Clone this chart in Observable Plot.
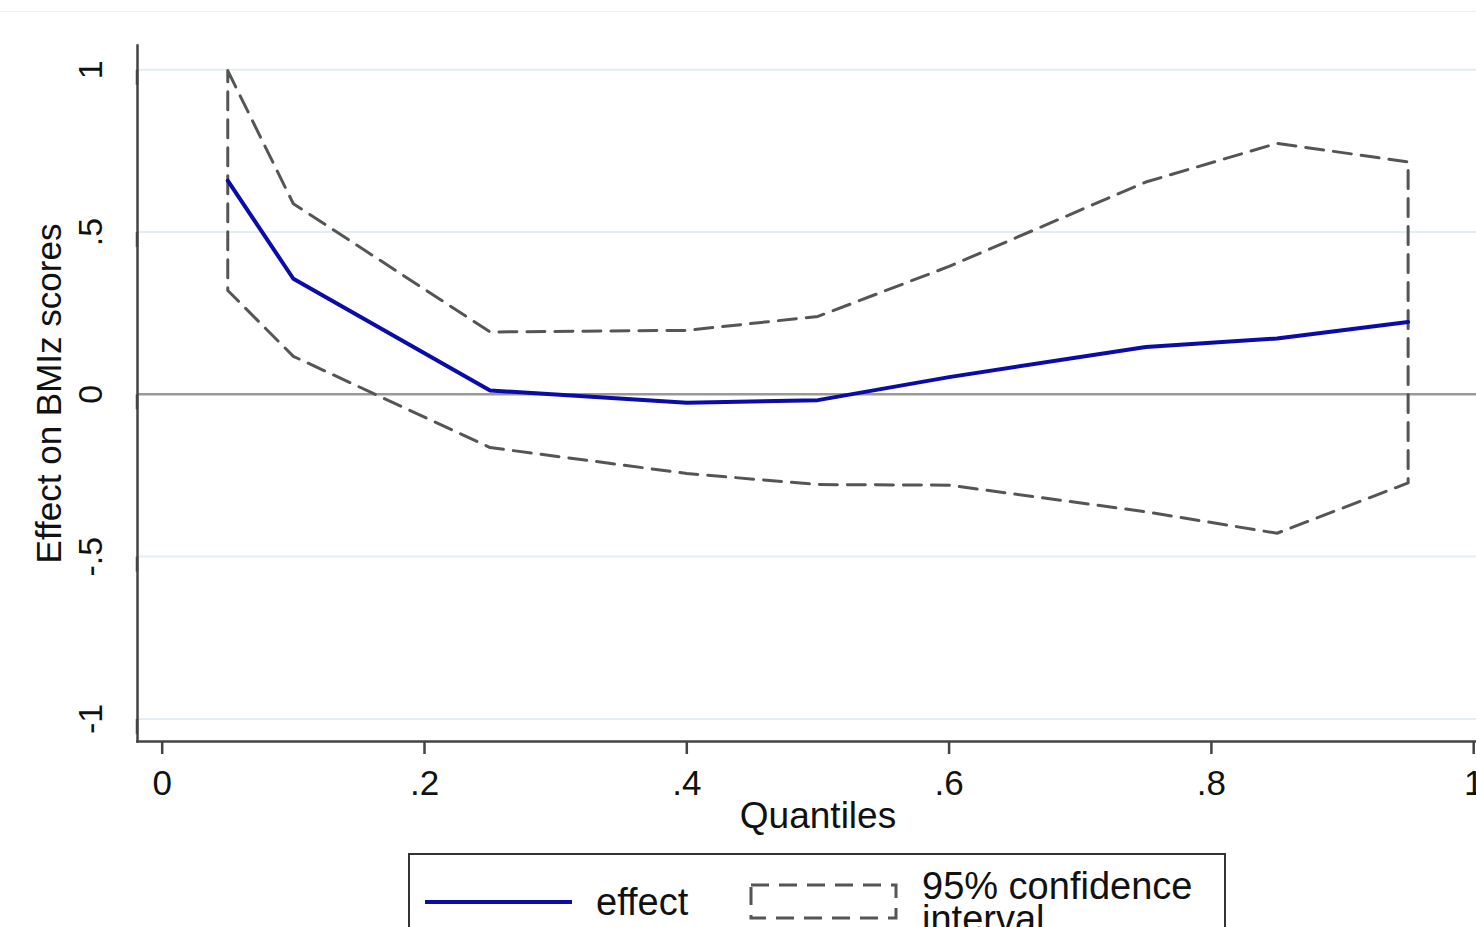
<!DOCTYPE html>
<html>
<head>
<meta charset="utf-8">
<script src="https://cdn.jsdelivr.net/npm/d3@7"></script>
<script src="https://cdn.jsdelivr.net/npm/@observablehq/plot@0.6"></script>
<style>
  html, body { margin: 0; padding: 0; background: #fff; overflow: hidden; }
  #wrap { position: relative; width: 1476px; height: 927px; font-family: "Liberation Sans", Arial, sans-serif; }
  #topline { position: absolute; left: 0; top: 11px; width: 1476px; border-top: 1px solid #eef0f2; }
  #chart { position: absolute; left: 0; top: 0; }
  #legend { position: absolute; left: 408px; top: 853px; width: 814px; height: 100px; border: 2px solid #333; background: #fff; overflow: hidden; }
  .lg-item { position: absolute; font-size: 38px; color: #111; line-height: 33px; white-space: nowrap; }
</style>
</head>
<body>
<div id="wrap">
  <div id="topline"></div>
  <div id="chart"></div>
  <div id="legend">
    <svg style="position:absolute;left:15px;top:37px" width="150" height="20"><line x1="0" y1="10" x2="147" y2="10" stroke="#0b0ba8" stroke-width="4"/></svg>
    <div class="lg-item" style="left:186px;top:31px">effect</div>
    <svg style="position:absolute;left:338px;top:27px" width="154" height="40"><rect x="3" y="3" width="145" height="33" fill="none" stroke="#555" stroke-width="3" stroke-dasharray="18,10"/></svg>
    <div class="lg-item" style="left:512px;top:15px">95% confidence<br>interval</div>
  </div>
</div>
<script>
const quantiles = [0.05, 0.10, 0.25, 0.40, 0.50, 0.60, 0.75, 0.85, 0.95];
const effect    = [0.658, 0.356, 0.012, -0.026, -0.018, 0.053, 0.146, 0.172, 0.223];
const upper     = [0.997, 0.587, 0.192, 0.197, 0.240, 0.394, 0.654, 0.773, 0.716];
const lower     = [0.320, 0.117, -0.164, -0.244, -0.278, -0.280, -0.362, -0.428, -0.273];
const xTicks = [0, 0.2, 0.4, 0.6, 0.8, 1];
const yTicks = [-1, -0.5, 0, 0.5, 1];
const gridTicks = [-1, -0.5, 0.5, 1];

const fmt = d => d === 0 ? "0" : String(d).replace("0.", ".");

const effectData = quantiles.map((q, i) => ({q, v: effect[i]}));
// closed outline of the confidence band: upper left->right, lower right->left, back to start
const ciData = [
  ...quantiles.map((q, i) => ({q, v: upper[i]})),
  ...quantiles.map((q, i) => ({q, v: lower[i]})).reverse(),
  {q: quantiles[0], v: upper[0]}
];

const chart = Plot.plot({
  width: 1476,
  height: 840,
  marginLeft: 137,
  marginRight: 0,
  marginTop: 45,
  marginBottom: 99,
  style: {fontFamily: '"Liberation Sans", Arial, sans-serif', background: "transparent", color: "#111"},
  x: {domain: [-0.01883, 1.00214]},
  y: {domain: [-1.0696, 1.0746]},
  marks: [
    Plot.ruleY(gridTicks, {stroke: "#e4edf1", strokeWidth: 2}),
    Plot.ruleY([0], {stroke: "#999", strokeWidth: 2.5}),
    Plot.line(ciData, {x: "q", y: "v", stroke: "#555", strokeWidth: 3, strokeDasharray: "18,10", curve: "linear"}),
    Plot.line(effectData, {x: "q", y: "v", stroke: "#0b0ba8", strokeWidth: 4}),
    Plot.frame({anchor: "left", stroke: "#444", strokeWidth: 2.5}),
    Plot.frame({anchor: "bottom", stroke: "#444", strokeWidth: 2.5}),
    Plot.axisX({ticks: xTicks, tickFormat: fmt, tickSize: 13, tickPadding: 16, fontSize: 35, label: null, stroke: "#444", strokeWidth: 2.5}),
    Plot.axisY({ticks: yTicks, tickFormat: fmt, tickSize: 15, tickPadding: 31, fontSize: 34, rotate: -90, textAnchor: "middle", label: null, stroke: "#444", strokeWidth: 2.5}),
    Plot.text(["Quantiles"], {frameAnchor: "bottom", dx: 11, dy: 86, fontSize: 37, fill: "#111"}),
    Plot.text(["Effect on BMIz scores"], {frameAnchor: "left", dx: -88, rotate: -90, textAnchor: "middle", fontSize: 35, fill: "#111"})
  ]
});
document.getElementById("chart").appendChild(chart);
</script>
</body>
</html>
